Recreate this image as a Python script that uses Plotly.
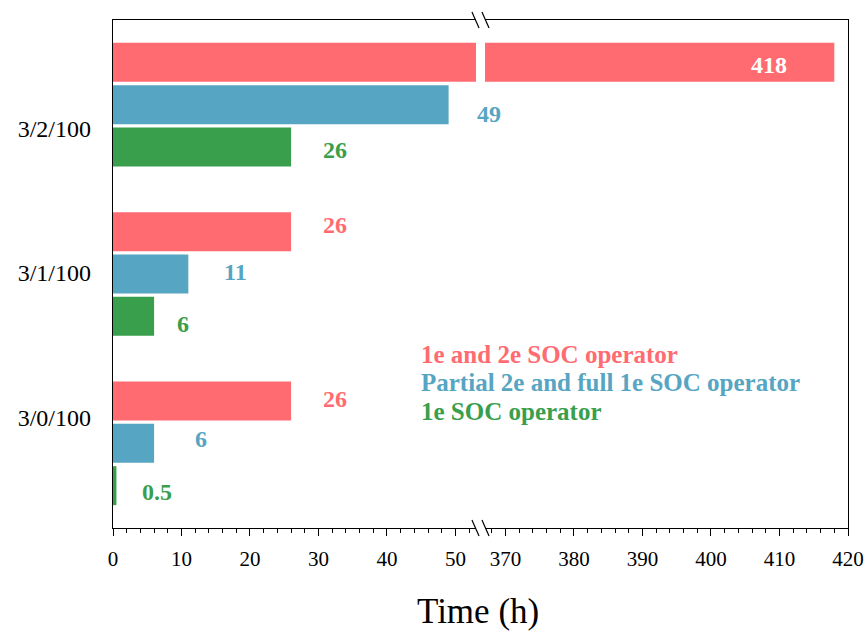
import plotly.graph_objects as go

# ---------------- data ----------------
categories = ["3/0/100", "3/1/100", "3/2/100"]
series_names = ["1e and 2e SOC operator",
                "Partial 2e and full 1e SOC operator",
                "1e SOC operator"]
full_soc = [26, 26, 418]          # 1e and 2e SOC operator
partial_soc = [6, 11, 49]         # Partial 2e and full 1e SOC operator
one_e_soc = [0.5, 6, 26]          # 1e SOC operator
x_ticks_left = [0, 10, 20, 30, 40, 50]
x_ticks_right = [370, 380, 390, 400, 410, 420]

# ---------------- styling / layout ----------------
series_values = [full_soc, partial_soc, one_e_soc]
colors = ["#ff6b70", "#56a5c2", "#3a9f4d"]
offsets = [0.25, 0.0, -0.25]
bar_width = 0.23
left_range = [0, 53]
right_range = [367, 420]
label_y = [0.15, 1.01, 1.86]
# per-series, per-category label pixel shifts (dx from bar end, dy)
label_dx = [[44, 44, -65], [47, 47, 40], [41, 29, 44]]
label_dy = [[2, 7, -3], [4, 2, -9], [-6, -8, -3]]
FONT = "Liberation Serif"

fig = go.Figure()
for s, (name, vals, col, off) in enumerate(zip(series_names, series_values, colors, offsets)):
    ys = [i + off for i in range(len(categories))]
    for xa, ya in (("x", "y"), ("x2", "y2")):
        fig.add_trace(go.Bar(
            x=vals, y=ys, orientation="h", width=bar_width,
            marker=dict(color=col, line=dict(width=0)),
            name=name, showlegend=False, xaxis=xa, yaxis=ya,
            hoverinfo="x"))
    for i, v in enumerate(vals):
        on_right = v > left_range[1]
        fig.add_annotation(
            x=v, y=i + off, xref="x2" if on_right else "x",
            yref="y", text=f"<b>{v:g}</b>", showarrow=False,
            xanchor="center", yanchor="middle",
            xshift=label_dx[s][i], yshift=label_dy[s][i],
            font=dict(family=FONT, size=24,
                      color="white" if on_right else col))

# legend as coloured text
for k, (name, col) in enumerate(zip(series_names, colors)):
    fig.add_annotation(x=0.416, y=0.3425 - k * 0.057, xref="paper", yref="paper",
                       text=f"<b>{name}</b>", showarrow=False,
                       xanchor="left", yanchor="middle",
                       font=dict(family=FONT, size=25, color=col))

# axis title
fig.add_annotation(x=0.497, y=-0.165, xref="paper", yref="paper",
                   text="Time (h)", showarrow=False,
                   xanchor="center", yanchor="middle",
                   font=dict(family=FONT, size=35, color="black"))

# break marks
for yc in (1.0, 0.0):
    for x0 in (0.4884, 0.5020):
        fig.add_shape(type="line", xref="paper", yref="paper",
                      x0=x0, x1=x0 + 0.0096, y0=yc + 0.0157, y1=yc - 0.0157,
                      line=dict(color="black", width=1.2))

common_x = dict(showline=True, linecolor="black", linewidth=1.3, mirror=True,
                ticks="outside", ticklen=7, tickwidth=1, tickcolor="black",
                showgrid=False, zeroline=False, dtick=10, tick0=0,
                minor=dict(dtick=2, tick0=0, ticks="outside", ticklen=4,
                           tickwidth=1, tickcolor="black"),
                tickfont=dict(family=FONT, size=21, color="black"),
                ticklabelstandoff=5, ticklabeloverflow="allow",
                automargin=False)

fig.update_layout(
    width=864, height=632,
    margin=dict(l=113, r=16, t=20, b=104),
    paper_bgcolor="white", plot_bgcolor="white",
    barmode="overlay", showlegend=False,
    xaxis=dict(domain=[0, 0.4939], range=left_range, anchor="y",
               tickvals=x_ticks_left, **common_x),
    xaxis2=dict(domain=[0.506, 1], range=right_range, anchor="y2",
                tickvals=x_ticks_right, **common_x),
    yaxis=dict(range=[-0.5, 2.5], anchor="x", showline=True, linecolor="black",
               linewidth=1.3, mirror=False, ticks="", showgrid=False,
               zeroline=False, tickvals=label_y, ticktext=categories,
               tickfont=dict(family=FONT, size=24, color="black"),
               ticklabelstandoff=16, automargin=False),
    yaxis2=dict(range=[-0.5, 2.5], anchor="x2", matches="y", side="right",
                showline=True, linecolor="black", linewidth=1.3, mirror=False,
                ticks="", showgrid=False, zeroline=False, showticklabels=False,
                automargin=False),
)

# remove the default page margin so the 864x632 figure fills the window exactly
fig.write_html("out.html",
               config={"displayModeBar": False},
               post_script="document.body.style.margin='0';"
                           "document.body.style.overflow='hidden';")
